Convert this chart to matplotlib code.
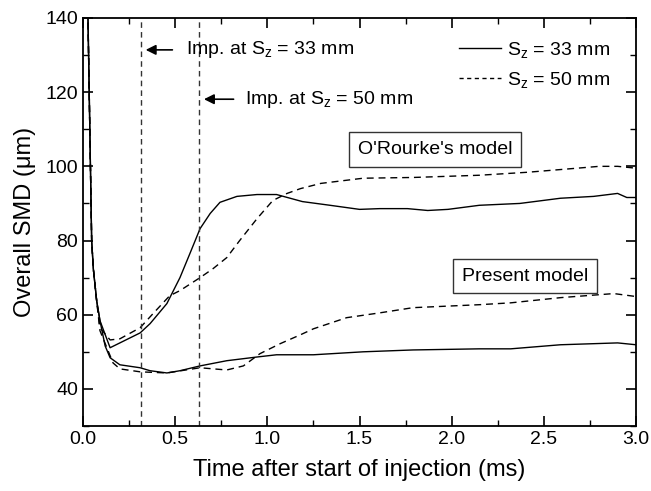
import numpy as np
import matplotlib.pyplot as plt

plt.rcParams['font.family'] = ['Liberation Sans', 'DejaVu Sans']
plt.rcParams['mathtext.fontset'] = 'custom'
plt.rcParams['mathtext.rm'] = 'Liberation Sans'
plt.rcParams['mathtext.it'] = 'Liberation Sans'

# начальный пик, общий для всех кривых
t_spike = [0.02, 0.027, 0.047, 0.056, 0.074]
y_spike = [150, 140, 80, 72.4, 63.8]

# O'Rourke, Sz = 33 мм
t_or33 = [0.092, 0.147, 0.2, 0.31, 0.364, 0.455, 0.526, 0.58, 0.635, 0.69, 0.743, 0.835,
          0.944, 1.05, 1.19, 1.34, 1.50, 1.61, 1.76, 1.87, 1.98, 2.15, 2.37, 2.59, 2.77, 2.90, 2.95, 3.0]
y_or33 = [58.4, 51.1, 52.4, 55.1, 57.6, 63.0, 70.0, 76.5, 83.2, 87.3, 90.3, 91.9,
          92.4, 92.4, 90.5, 89.5, 88.4, 88.6, 88.6, 88.1, 88.4, 89.5, 90.0, 91.4, 91.9, 92.7, 91.6, 91.6]

# O'Rourke, Sz = 50 мм
t_or50 = [0.092, 0.147, 0.2, 0.31, 0.38, 0.47, 0.526, 0.635, 0.705, 0.78, 0.85, 0.944,
          1.03, 1.107, 1.18, 1.29, 1.52, 1.79, 2.15, 2.41, 2.68, 2.8, 2.9, 3.0]
y_or50 = [56.5, 53.2, 53.5, 56.5, 60.3, 65.1, 66.5, 70.0, 72.4, 75.4, 80.0, 85.9,
          90.8, 92.7, 94.0, 95.4, 96.8, 97.0, 97.6, 98.4, 99.5, 100.0, 100.0, 99.5]

# Present model, Sz = 33 мм
t_pr33 = [0.092, 0.12, 0.147, 0.2, 0.31, 0.364, 0.455, 0.526, 0.635, 0.78, 0.944, 1.05,
          1.25, 1.52, 1.79, 2.15, 2.32, 2.59, 2.9, 3.0]
y_pr33 = [58.4, 51.6, 48.4, 46.5, 45.7, 44.9, 44.3, 44.9, 46.2, 47.6, 48.6, 49.2,
          49.2, 50.0, 50.5, 50.8, 50.8, 51.9, 52.4, 51.9]

# Present model, Sz = 50 мм
t_pr50 = [0.092, 0.163, 0.2, 0.31, 0.455, 0.635, 0.78, 0.87, 0.96, 1.07, 1.18, 1.25,
          1.43, 1.61, 1.79, 2.15, 2.32, 2.59, 2.88, 3.0]
y_pr50 = [55.7, 47.0, 45.4, 44.6, 44.3, 45.7, 45.1, 46.2, 49.5, 52.2, 54.6, 56.2,
          59.2, 60.5, 61.9, 62.7, 63.2, 64.6, 65.7, 64.9]

imp_t = [0.315, 0.631]  # моменты удара о стенку

fig = plt.figure(figsize=(6.51, 4.91), dpi=100)
ax = fig.add_axes([0.1275, 0.1324, 0.8495, 0.831])

dash = (0, (5, 3.5))
ax.plot(t_spike + t_or33, y_spike + y_or33, color='black', lw=1.0)
ax.plot(t_spike + t_or50, y_spike + y_or50, color='black', lw=1.0, linestyle=dash)
ax.plot(t_spike + t_pr33, y_spike + y_pr33, color='black', lw=1.0)
ax.plot(t_spike + t_pr50, y_spike + y_pr50, color='black', lw=1.0, linestyle=dash)

for t in imp_t:
    ax.axvline(t, color='#333333', lw=1.0, linestyle=(0, (4, 3)))

sub = r'S$_{\mathregular{z}}$'
fs = 14
ax.annotate('', xy=(0.325, 131.4), xytext=(0.50, 131.4),
            arrowprops=dict(arrowstyle='-|>', color='black', lw=1.2, mutation_scale=15))
ax.text(0.56, 131.4, 'Imp. at ' + sub + ' = 33 mm', fontsize=fs, va='center')
ax.annotate('', xy=(0.641, 118.1), xytext=(0.832, 118.1),
            arrowprops=dict(arrowstyle='-|>', color='black', lw=1.2, mutation_scale=15))
ax.text(0.88, 118.1, 'Imp. at ' + sub + ' = 50 mm', fontsize=fs, va='center')

box = dict(boxstyle='square,pad=0.45', facecolor='white', edgecolor='#333333', lw=1.0)
ax.text(1.91, 104.6, "O'Rourke's model", fontsize=fs, ha='center', va='center', bbox=box)
ax.text(2.396, 70.4, 'Present model', fontsize=fs, ha='center', va='center', bbox=box)

# легенда
ax.plot([], [], color='black', lw=1.0, label=sub + ' = 33 mm')
ax.plot([], [], color='black', lw=1.0, linestyle=(0, (3, 2.5)), label=sub + ' = 50 mm')
ax.legend(loc='upper right', frameon=False, fontsize=fs, handlelength=2.2,
          handletextpad=0.3, labelspacing=0.55, bbox_to_anchor=(0.985, 0.99))

ax.set_xlim(0, 3.0)
ax.set_ylim(30, 140)
ax.set_xticks(np.arange(0, 3.01, 0.5))
ax.set_xticks(np.arange(0, 3.01, 0.25), minor=True)
ax.set_yticks(np.arange(40, 141, 20))
ax.set_yticks(np.arange(30, 141, 10), minor=True)
ax.tick_params(which='both', direction='in', top=True, right=True, labelsize=14)
ax.tick_params(which='major', length=7, width=1.2)
ax.tick_params(which='minor', length=4, width=1.0)
for s in ax.spines.values():
    s.set_linewidth(1.3)

ax.set_xlabel('Time after start of injection (ms)', fontsize=17)
ax.set_ylabel('Overall SMD (\u03bcm)', fontsize=17)
ax.xaxis.labelpad = 8
ax.yaxis.labelpad = 7

fig.savefig('out.png', dpi=100)
